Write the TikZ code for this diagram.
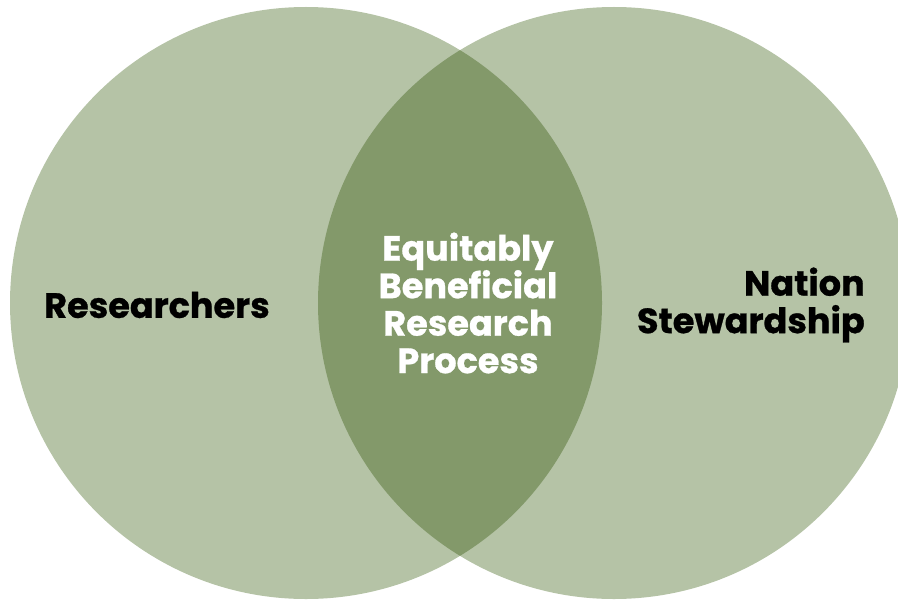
\documentclass[tikz,border=0pt]{standalone}
\usepackage{fontspec}
\setmainfont{Poppins}[BoldFeatures={FakeBold=0.8}]
\definecolor{lightsage}{HTML}{B5C3A6}
\definecolor{darksage}{HTML}{83996A}
\begin{document}
\begin{tikzpicture}[x=0.75pt,y=-0.75pt,
  lbl/.style={font=\fontsize{26.3}{28.1}\selectfont\bfseries, inner sep=0pt},
  circ/.style={fill=lightsage, draw=none}]
\useasboundingbox (0,0) rectangle (898,599);
\clip (0,0) rectangle (898,599);
\fill[circ] (306,303) circle[radius=296];
\fill[circ] (614,303) circle[radius=296];
\begin{scope}
  \clip (306,303) circle[radius=296];
  \fill[darksage] (614,303) circle[radius=296];
\end{scope}
\node[lbl, text=black] (res) at (157,305) {Researchers};
\node[lbl, text=black, align=right, anchor=east] (nat) at (865,305) {Nation\\Stewardship};
\node[lbl, text=white, align=center] (ebr) at (468,303) {Equitably\\Beneficial\\Research\\Process};
\end{tikzpicture}
\end{document}
